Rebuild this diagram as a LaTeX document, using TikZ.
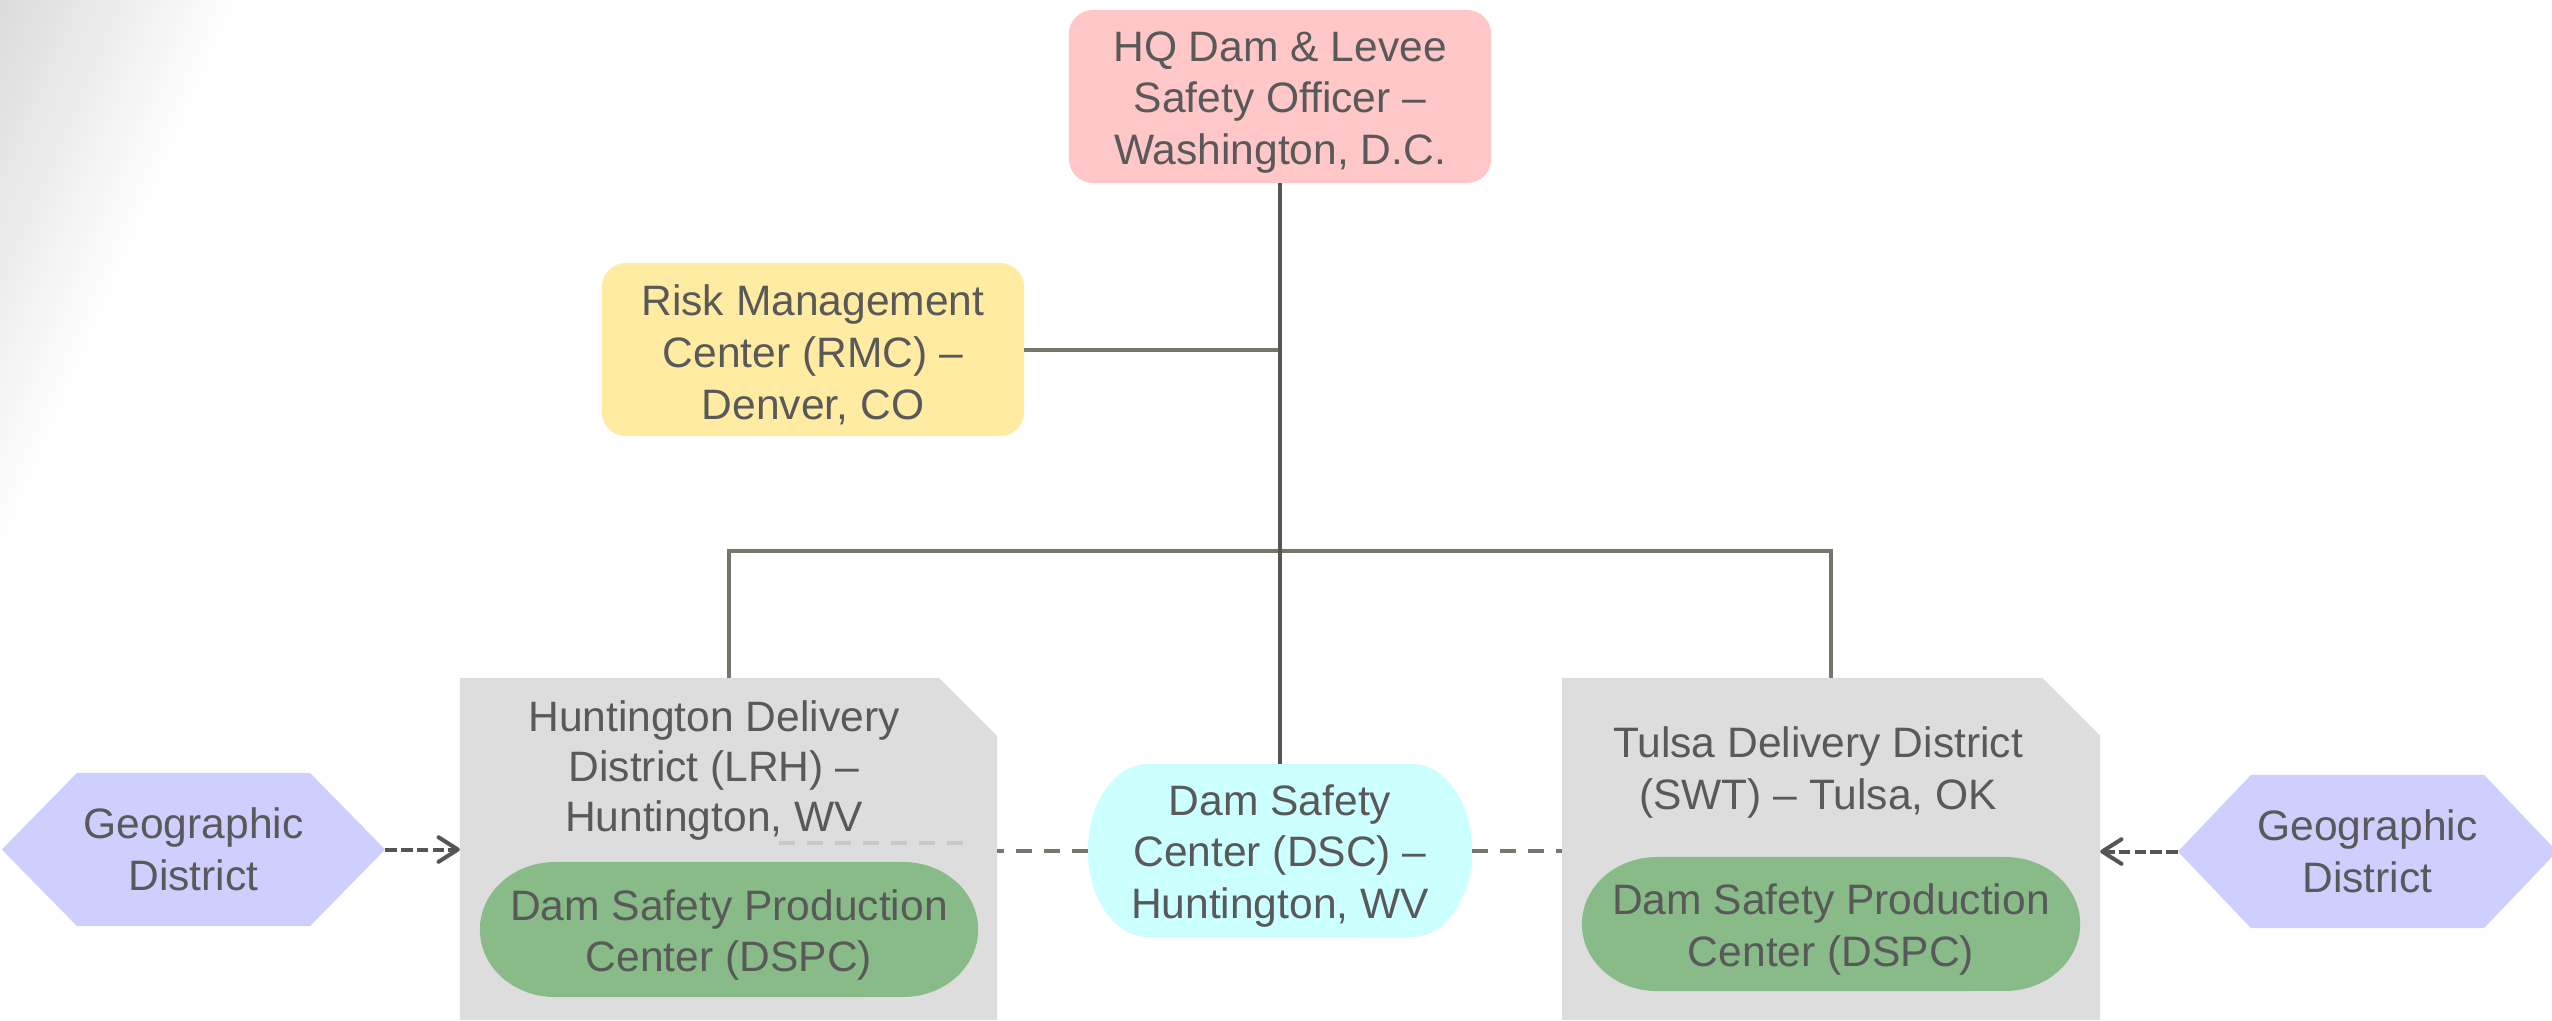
\documentclass[tikz,border=0pt]{standalone}
\usepackage{fontspec}
\setmainfont{Liberation Sans}
\usetikzlibrary{calc,arrows.meta}
\pgfdeclarelayer{bg}
\pgfdeclarelayer{back}
\pgfsetlayers{bg,back,main}
\definecolor{txt}{HTML}{595959}
\definecolor{hqpink}{HTML}{FFC7C7}
\definecolor{rmcyellow}{HTML}{FFEBA1}
\definecolor{boxgray}{HTML}{DDDDDD}
\definecolor{dspcgreen}{HTML}{88BB88}
\definecolor{dsccyan}{HTML}{CCFFFF}
\definecolor{geolav}{HTML}{CFCFFF}
\definecolor{trunkgray}{HTML}{555555}
\definecolor{olivegray}{HTML}{76766A}
\definecolor{lightdash}{HTML}{C9C9C9}
\newcommand{\hexfill}[3]{% node, depth, colour
  \fill[#3] (#1.west) -- ($(#1.north west)+(#2,0)$) -- ($(#1.north east)+(-#2,0)$)
    -- (#1.east) -- ($(#1.south east)+(-#2,0)$) -- ($(#1.south west)+(#2,0)$) -- cycle;}
\newcommand{\termfill}[4]{% node, rx (px), ry (px), colour
  \fill[#4] ($(#1.north west)+(#2,0)$) -- ($(#1.north east)+(-#2,0)$)
    arc[start angle=90,end angle=-90,x radius=#2*0.01cm,y radius=#3*0.01cm]
    -- ($(#1.south west)+(#2,0)$)
    arc[start angle=270,end angle=90,x radius=#2*0.01cm,y radius=#3*0.01cm] -- cycle;}
\newcommand{\chamferfill}[3]{% node, cut, colour
  \fill[#3] (#1.north west) -- ($(#1.north east)+(-#2,0)$) -- ($(#1.north east)+(0,-#2)$)
    -- (#1.south east) -- (#1.south west) -- cycle;}
\newcommand{\topstrut}{\rule{0pt}{11.8pt}}
\begin{document}
\begin{tikzpicture}[x=0.01cm,y=0.01cm,
  every node/.style={inner sep=0pt,outer sep=0pt,text=txt,align=center,
    font=\fontsize{12.1pt}{14.7pt}\selectfont},
  rbox/.style={rectangle,rounded corners=0.24cm,minimum width=4.22cm,minimum height=1.73cm},
  hqbox/.style={rbox,fill=hqpink},
  rmcbox/.style={rbox,fill=rmcyellow},
  shell/.style={rectangle},
  solidline/.style={line width=1.14pt,draw=olivegray},
  trunkline/.style={line width=1.14pt,draw=trunkgray},
  linkdash/.style={line width=1.14pt,draw=olivegray,dash pattern=on 4.55pt off 3.4pt},
  innerdash/.style={line width=1.14pt,draw=lightdash,dash pattern=on 4.55pt off 3.4pt},
  geoarrow/.style={line width=1.14pt,draw=trunkgray,dash pattern=on 3.3pt off 1.2pt,
    -{Straight Barb[length=5.5pt,width=7pt,line cap=round,line join=round]}}
]
\useasboundingbox (0,0) rectangle (2552,-1020);

% background corner gradient
\begin{pgfonlayer}{bg}
\foreach \i in {40,39,...,1}{
  \pgfmathsetmacro{\tt}{\i/40}
  \pgfmathsetmacro{\pc}{14*(1-\tt)+0.3}
  \fill[black!\pc!white] (0,0) -- (240*\tt,0) -- (0,-560*\tt) -- cycle;
}
\end{pgfonlayer}

% top nodes
\node[hqbox] (hq) at (1280,-96.5) {\topstrut HQ Dam \& Levee\\Safety Officer –\\Washington, D.C.};
\node[rmcbox] (rmc) at (813,-349.5) {\topstrut Risk Management\\Center (RMC) –\\Denver, CO};

% district shells
\node[shell,minimum width=5.37cm,minimum height=3.42cm] (hunt) at (728.5,-849) {};
\node[shell,minimum width=5.38cm,minimum height=3.42cm] (tulsa) at (1831,-849) {};

\node[font=\fontsize{12.1pt}{14.2pt}\selectfont] (hunttxt) at (714,-765) {\topstrut Huntington Delivery\\District (LRH) –\\Huntington, WV};
\node (tulsatxt) at (1818,-767) {\topstrut Tulsa Delivery District\\(SWT) – Tulsa, OK};

\node[shell,minimum width=4.98cm,minimum height=1.35cm] (dspcL) at (729,-929.5) {\topstrut Dam Safety Production\\Center (DSPC)};
\node[shell,minimum width=4.98cm,minimum height=1.34cm] (dspcR) at (1831,-924) {\topstrut Dam Safety Production\\Center (DSPC)};

\node[shell,minimum width=3.84cm,minimum height=1.73cm] (dsc) at (1280,-850.5) {\topstrut Dam Safety\\Center (DSC) –\\Huntington, WV};

\node[shell,minimum width=3.83cm,minimum height=1.53cm] (geoL) at (193.5,-849.5) {Geographic\\District};
\node[shell,minimum width=3.79cm,minimum height=1.53cm] (geoR) at (2367.5,-851.5) {Geographic\\District};

\begin{pgfonlayer}{back}
\chamferfill{hunt}{58}{boxgray}
\chamferfill{tulsa}{58}{boxgray}
\termfill{dspcL}{75}{67.5}{dspcgreen}
\termfill{dspcR}{75}{67}{dspcgreen}
\termfill{dsc}{60}{86.5}{dsccyan}
\hexfill{geoL}{75}{geolav}
\hexfill{geoR}{73}{geolav}
\end{pgfonlayer}

% connectors
\coordinate (bus) at (1280,-551);
\coordinate (hl1) at (963,-843);
\coordinate (hl2) at (779,-843);
\draw[solidline] (rmc.east) -- (rmc.east -| hq.south);
\draw[solidline] (hunt.north) |- (bus) -| (tulsa.north);
\draw[trunkline] (hq.south) -- (dsc.north);
\draw[linkdash] (dsc.west) -- (hunt.east |- dsc.west);
\draw[linkdash] (dsc.east) -- (tulsa.west |- dsc.east);
\draw[innerdash] (hl1) -- (hl2);
\draw[geoarrow] (geoL.east) -- (hunt.west |- geoL.east);
\draw[geoarrow] (geoR.west) -- (tulsa.east |- geoR.west);
\end{tikzpicture}
\end{document}
